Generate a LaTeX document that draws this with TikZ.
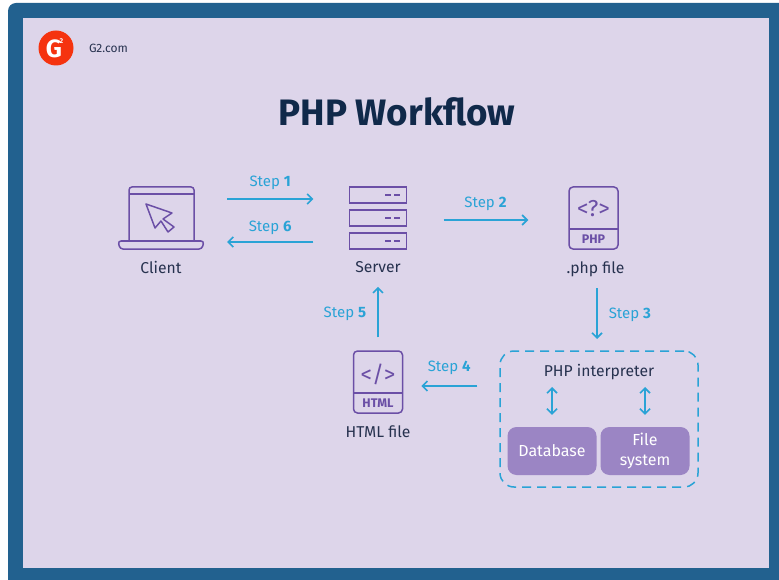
\documentclass[tikz,border=0pt]{standalone}
\usepackage{fontspec}
\setmainfont{Fira Sans}
\usepackage{xcolor}
\usepackage{tikz}
\usetikzlibrary{arrows.meta,shapes,positioning}
\definecolor{framecol}{HTML}{22618F}
\definecolor{lilac}{HTML}{DDD5EA}
\definecolor{iconcol}{HTML}{6B4FA6}
\definecolor{flowcol}{HTML}{2AA3D6}
\definecolor{boxcol}{HTML}{9B85C4}
\definecolor{textcol}{HTML}{27324F}
\definecolor{titlecol}{HTML}{10294A}
\definecolor{logocol}{HTML}{F5330F}
\tikzset{
  basic/.style    = {inner sep=0pt, font=\fontsize{15.7}{18}\selectfont},
  caption/.style  = {basic, text=textcol},
  steplabel/.style = {basic, text=flowcol, font=\fontsize{15}{17}\selectfont},
  flow/.style     = {draw=flowcol, line width=1.6pt, -{Straight Barb[length=5pt,width=10pt]}},
  swap/.style     = {draw=flowcol, line width=1.6pt, {Straight Barb[length=5pt,width=10pt]}-{Straight Barb[length=5pt,width=10pt]}},
  icon/.style     = {draw=iconcol, line width=1.5pt},
  fileicon/.style = {icon, rounded corners=4pt, minimum width=49pt, minimum height=62pt, inner sep=0pt},
  filecode/.style = {inner sep=0pt, text=iconcol, font=\fontsize{23}{24}\selectfont},
  filetag/.style  = {inner sep=0pt, text=iconcol, minimum width=49pt, minimum height=20pt, font=\bfseries\fontsize{12.5}{14}\selectfont},
  srvrow/.style   = {icon, minimum width=57pt, minimum height=16pt, inner sep=0pt},
  store/.style    = {fill=boxcol, rounded corners=9pt, minimum width=89pt, minimum height=48pt, inner sep=0pt, align=center, text=white, font=\fontsize{16}{20}\selectfont}
}

\begin{document}
\begin{tikzpicture}[x=1pt,y=-1pt]
\useasboundingbox (0,0) rectangle (779,580);

% frame and background
\fill[white] (0,0) rectangle (779,580);
\fill[framecol] (8,580) [rounded corners=8pt] -- (8,3) [sharp corners] -- (779,3) -- (779,580) -- cycle;
\fill[lilac] (23,18) rectangle (769,568);

% logo and title
\node[circle, fill=logocol, minimum size=35pt, inner sep=0pt] (logo) at (56,48) {};
\node[inner sep=0pt, text=white, font=\bfseries\fontsize{25}{25}\selectfont] (logog) at (54,49) {G};
\node[inner sep=0pt, text=white, font=\bfseries\fontsize{7}{7}\selectfont] (logotwo) at (61.5,41) {2};
\node[inner sep=0pt, text=textcol, font=\fontsize{12}{14}\selectfont] (site) at (108.5,48) {G2.com};
\node[inner sep=0pt, text=titlecol, font=\bfseries\fontsize{36.8}{40}\selectfont] (title) at (397,112) {PHP Workflow};

% client, server and the two files
\node[minimum width=86pt, minimum height=62pt, inner sep=0pt] (client) at (161,218) {};
\node[minimum width=57pt, minimum height=62pt, inner sep=0pt] (server) at (378,218) {};
\node[fileicon] (php) at (593.5,218) {};
\node[fileicon] (html) at (378,382) {};

\node[caption, below=12pt of client] (clientname) {Client};
\node[caption, below=12pt of server] (servername) {Server};
\node[caption, below=12pt of php, xshift=2pt] (phpname) {.php file};
\node[caption, below=12pt of html] (htmlname) {HTML file};

% laptop
\draw[icon, rounded corners=3pt] (129,241) -- (129,187) -- (194,187) -- (194,241);
\draw[icon] (129,194) -- (194,194);
\draw[icon, rounded corners=3pt] (118,241) -- (204,241) -- (202,249) -- (120,249) -- cycle;
\draw[icon, line join=round] (146,204) -- (172,213) -- (163,219) -- (174,227) -- (168,232) -- (161,221) -- (155,228) -- cycle;

% server rows
\foreach \row/\ypos in {1/195,2/218,3/241} {
  \node[srvrow] (srv\row) at (378,\ypos) {};
  \draw[icon, dash pattern=on 6pt off 3pt] ([xshift=-22pt]srv\row.east) -- ([xshift=-7pt]srv\row.east);
}

% inside of the file icons
\node[filecode] (phpcode) at (593.5,209) {<?>};
\node[filetag] (phptag) at (593.5,239) {PHP};
\draw[icon] (phptag.north west) -- (phptag.north east);
\node[filecode] (htmlcode) at (378,374) {</>};
\node[filetag] (htmltag) at (378,403) {HTML};
\draw[icon] (htmltag.north west) -- (htmltag.north east);

% interpreter group
\node[draw=flowcol, line width=1.5pt, dash pattern=on 9pt off 6pt, rounded corners=14pt, minimum width=198pt, minimum height=136pt] (group) at (599,419) {};
\node[caption] (interp) at (599,372) {PHP interpreter};
\node[store] (database) at (552,451) {Database};
\node[store] (filesys) at (645,451) {File\\system};

\draw[swap, shorten <=7pt, shorten >=12pt] (database.north |- interp.south) -- (database.north);
\draw[swap, shorten <=7pt, shorten >=12pt] (filesys.north |- interp.south) -- (filesys.north);

% the steps
\draw[flow, shorten <=23pt, shorten >=36pt] ([yshift=19pt]client.east) -- ([yshift=19pt]server.west)
  node[steplabel, midway, above=9pt, xshift=-6.5pt] (step1) {Step \textbf{1}};
\draw[flow, shorten <=36pt, shorten >=23pt] ([yshift=-24pt]server.west) -- ([yshift=-24pt]client.east)
  node[steplabel, midway, above=7pt, xshift=-6.5pt] (step6) {Step \textbf{6}};
\draw[flow, shorten <=37pt, shorten >=40pt] ([yshift=-2pt]server.east) -- ([yshift=-2pt]php.west)
  node[steplabel, midway, above=9pt, xshift=-2pt] (step2) {Step \textbf{2}};
\draw[flow] ([xshift=1.5pt]phpname.south |- 0,288) -- ([xshift=1.5pt]phpname.south |- 0,339)
  node[steplabel, midway, right=11pt, yshift=-1pt] (step3) {Step \textbf{3}};
\draw[flow, shorten <=22pt, shorten >=18pt] (group.west |- 0,386) -- (html.east |- 0,386)
  node[steplabel, midway, above=11pt, xshift=-2pt] (step4) {Step \textbf{4}};
\draw[flow, shorten <=13pt, shorten >=14pt] (html.north) -- (servername.south)
  node[steplabel, midway, left=11pt, yshift=-2pt] (step5) {Step \textbf{5}};
\end{tikzpicture}
\end{document}
